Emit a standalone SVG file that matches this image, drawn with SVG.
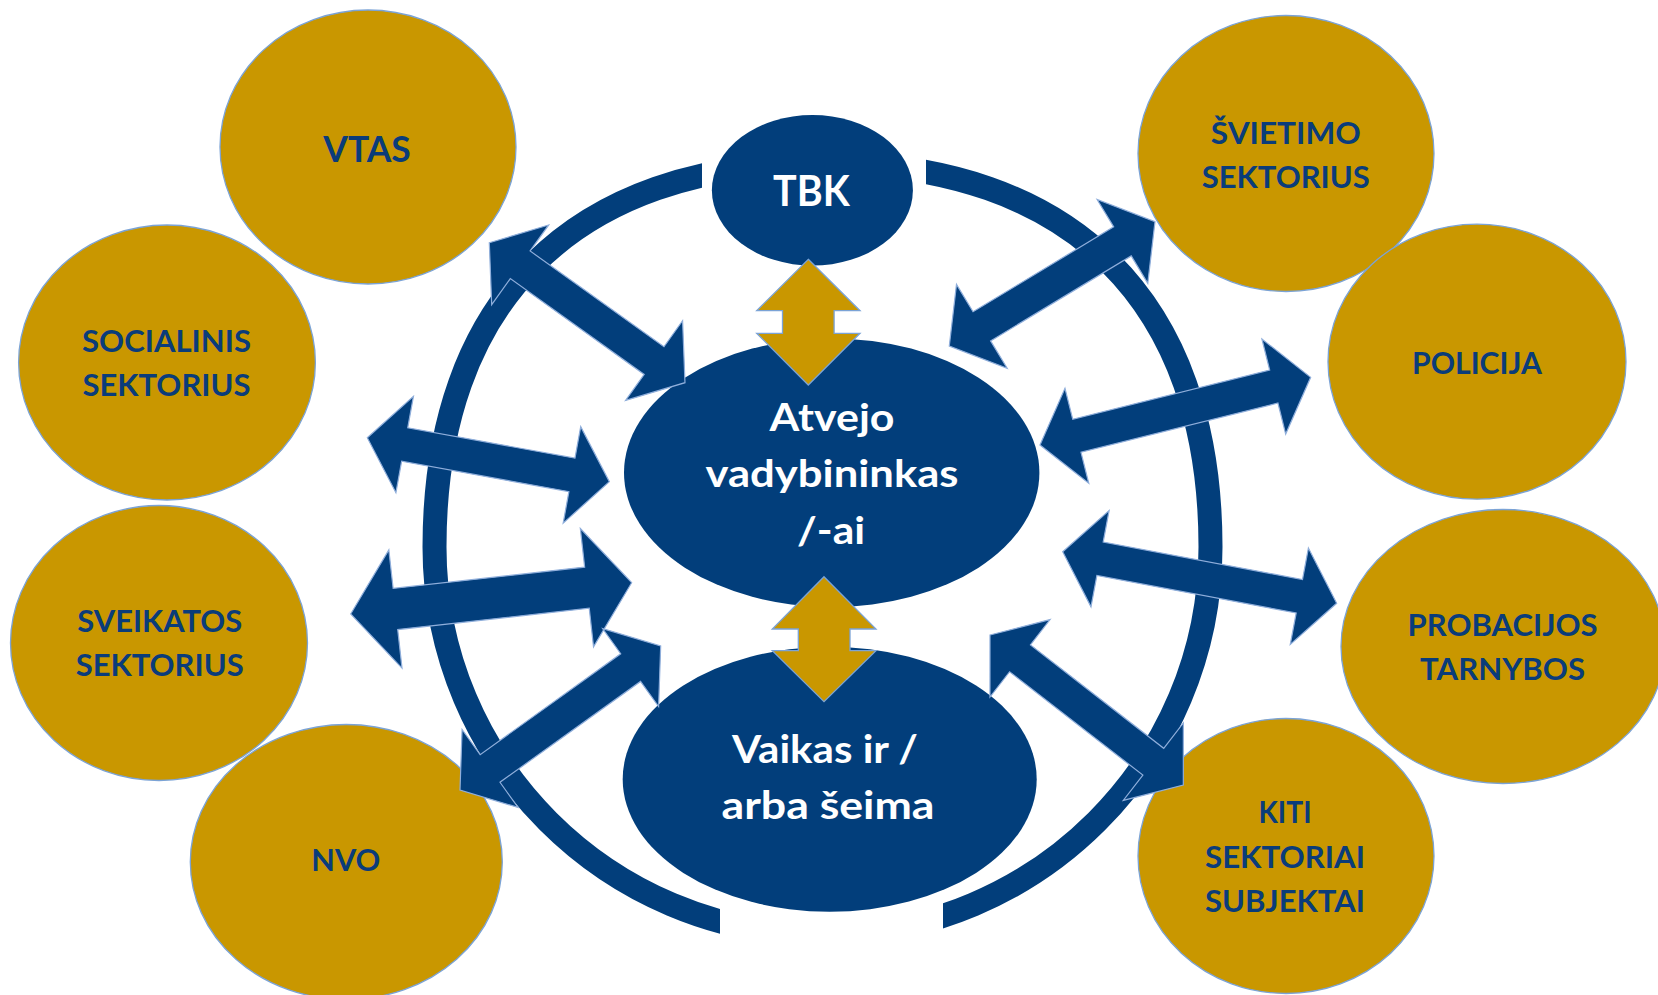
<svg xmlns="http://www.w3.org/2000/svg" width="1658" height="995" viewBox="0 0 1658 995">
<style>
.gold{fill:#C99700;stroke:#7BA3D6;stroke-width:1.3}
.blue{fill:#023E7B}
.gt{font-family:Lato,'Open Sans','Liberation Sans',sans-serif;font-weight:700;fill:#0A3C7A;text-anchor:middle;font-size:31px}
.wt{font-family:Lato,'Open Sans','Liberation Sans',sans-serif;font-weight:700;fill:#FFFFFF;text-anchor:middle}
.arr{fill:#023E7B;stroke:#8FAEDB;stroke-width:1.2;stroke-linejoin:miter}
.garr{fill:#C99700;stroke:#7BA3D6;stroke-width:1.3}
.ring{fill:none;stroke:#023E7B;stroke-width:24}
</style>
<defs>
<clipPath id="ringClip">
<path clip-rule="evenodd" d="M0,0H1658V995H0Z M702,0V400H926V0Z M720,700V995H943V700Z"/>
</clipPath>
</defs>
<rect width="1658" height="995" fill="#FFFFFF"/>

<g id="vtas"><ellipse class="gold" cx="368" cy="147" rx="148" ry="137"/><text class="gt" x="367" y="161.7" style="font-size:37px" textLength="87.5" lengthAdjust="spacingAndGlyphs">VTAS</text></g>
<g id="socialinis"><ellipse class="gold" cx="167" cy="362.5" rx="148.4" ry="137.5"/><text class="gt" x="166.5" y="351.7" textLength="169" lengthAdjust="spacingAndGlyphs">SOCIALINIS</text><text class="gt" x="166.5" y="396" textLength="168" lengthAdjust="spacingAndGlyphs">SEKTORIUS</text></g>
<g id="sveikatos"><ellipse class="gold" cx="159" cy="643" rx="148.5" ry="137.5"/><text class="gt" x="159.7" y="631.7" textLength="165" lengthAdjust="spacingAndGlyphs">SVEIKATOS</text><text class="gt" x="159.7" y="676" textLength="168" lengthAdjust="spacingAndGlyphs">SEKTORIUS</text></g>
<g id="nvo"><ellipse class="gold" cx="346.3" cy="862" rx="156" ry="137.5"/><text class="gt" x="345.8" y="870.6" textLength="69" lengthAdjust="spacingAndGlyphs">NVO</text></g>
<g id="svietimo"><ellipse class="gold" cx="1286" cy="153.5" rx="148" ry="138"/><text class="gt" x="1285.8" y="143.5" textLength="150" lengthAdjust="spacingAndGlyphs">ŠVIETIMO</text><text class="gt" x="1285.8" y="187.5" textLength="168" lengthAdjust="spacingAndGlyphs">SEKTORIUS</text></g>
<g id="policija"><ellipse class="gold" cx="1477" cy="361.7" rx="149" ry="137.5"/><text class="gt" x="1477" y="373.7" textLength="130" lengthAdjust="spacingAndGlyphs">POLICIJA</text></g>
<g id="probacijos"><ellipse class="gold" cx="1503" cy="646.5" rx="162" ry="137"/><text class="gt" x="1502.6" y="636" textLength="190" lengthAdjust="spacingAndGlyphs">PROBACIJOS</text><text class="gt" x="1502.6" y="680.3" textLength="165" lengthAdjust="spacingAndGlyphs">TARNYBOS</text></g>
<g id="kiti"><ellipse class="gold" cx="1286" cy="856" rx="148" ry="137.5"/><text class="gt" x="1285" y="823.3" textLength="53" lengthAdjust="spacingAndGlyphs">KITI</text><text class="gt" x="1285" y="868.3" textLength="160" lengthAdjust="spacingAndGlyphs">SEKTORIAI</text><text class="gt" x="1285" y="911.7" textLength="160" lengthAdjust="spacingAndGlyphs">SUBJEKTAI</text></g>

<g id="tbk"><ellipse class="blue" cx="812.4" cy="190.3" rx="100.5" ry="75.3"/><text class="wt" x="811.4" y="206" font-size="42" textLength="76.6" lengthAdjust="spacingAndGlyphs">TBK</text></g>
<g id="atvejo"><ellipse class="blue" cx="831.7" cy="472.7" rx="207.7" ry="134.3"/><text class="wt" font-size="38"><tspan x="832" y="430.7" textLength="125" lengthAdjust="spacingAndGlyphs">Atvejo</tspan><tspan x="832" y="487.3" textLength="253" lengthAdjust="spacingAndGlyphs">vadybininkas</tspan><tspan x="831" y="544" textLength="68" lengthAdjust="spacingAndGlyphs">/-ai</tspan></text></g>
<g id="vaikas"><ellipse class="blue" cx="829.7" cy="779.2" rx="207" ry="132.5"/><text class="wt" font-size="39"><tspan x="825" y="763.3" textLength="186" lengthAdjust="spacingAndGlyphs">Vaikas ir /</tspan><tspan x="828" y="819.3" textLength="213" lengthAdjust="spacingAndGlyphs">arba šeima</tspan></text></g>

<g id="connectors">
<path class="ring" clip-path="url(#ringClip)" d="M822.5,163 C572.5,163 434.5,302 434.5,547 C434.5,761.3 608.2,935 822.5,935 C1036.8,935 1210.5,761.3 1210.5,547 C1210.5,302 1072.5,163 822.5,163 Z"/>
<polygon class="arr" transform="translate(489.3,242.7) rotate(35.58)" points="0,0 38,-49 38,-17 202.6,-17 202.6,-49 240.6,0 202.6,49 202.6,17 38,17 38,49"/>
<polygon class="arr" transform="translate(367.3,437.7) rotate(10.30)" points="0,0 38,-49 38,-17 208,-17 208,-49 246,0 208,49 208,17 38,17 38,49"/>
<polygon class="arr" transform="translate(350.7,614) rotate(-6.36)" points="0,0 45,-59.5 45,-20.7 237.7,-20.7 237.7,-59.5 282.7,0 237.7,59.5 237.7,20.7 45,20.7 45,59.5"/>
<polygon class="arr" transform="translate(460,790) rotate(-35.66)" points="0,0 37,-48 37,-17 210,-17 210,-48 247,0 210,48 210,17 37,17 37,48"/>
<polygon class="arr" transform="translate(949.3,346) rotate(-31.14)" points="0,0 38,-49 38,-17 202.3,-17 202.3,-49 240.3,0 202.3,49 202.3,17 38,17 38,49"/>
<polygon class="arr" transform="translate(1040,445) rotate(-14.04)" points="0,0 38,-49 38,-17 241,-17 241,-49 279,0 241,49 241,17 38,17 38,49"/>
<polygon class="arr" transform="translate(1062.7,551.7) rotate(10.66)" points="0,0 38,-49 38,-17 240.8,-17 240.8,-49 278.8,0 240.8,49 240.8,17 38,17 38,49"/>
<polygon class="arr" transform="translate(990,635) rotate(37.81)" points="0,0 38,-49 38,-17 206.7,-17 206.7,-49 244.7,0 206.7,49 206.7,17 38,17 38,49"/>
<polygon class="garr" points="808.3,259.3 860,310.7 834.1,310.7 834.1,333.3 860,333.3 808.3,385 756.7,333.3 782.5,333.3 782.5,310.7 756.7,310.7"/>
<polygon class="garr" points="824,576.7 876,629 850,629 850,650.7 876,650.7 824,701.7 772.3,650.7 798.3,650.7 798.3,629 772.3,629"/>
</g>
</svg>
